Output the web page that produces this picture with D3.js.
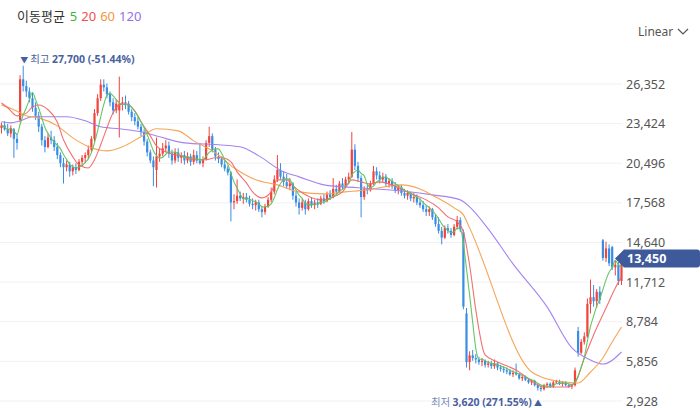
<!DOCTYPE html>
<html>
<head>
<meta charset="utf-8">
<script src="https://cdn.jsdelivr.net/npm/d3@7"></script>
<style>
  body { margin: 0; background: #fff; }
  svg { display: block; font-family: "Noto Sans", "Noto Sans CJK KR", sans-serif; }
</style>
</head>
<body>
<svg id="chart" width="700" height="408"></svg>
<script>
// daily candles [open, high, low, close]
const candles = [
  [23100,23500,22700,23300],[23300,23600,22900,23000],[23000,23400,22500,22700],[22700,23300,22400,23100],
  [23000,23100,20900,22300],[22300,22700,21500,22000],[23700,27000,23500,26700],[26700,27700,25800,26200],
  [26200,26600,25400,25800],[25800,26100,25000,25300],[25300,25700,24300,24600],[24600,25000,23700,24000],
  [24000,24300,22800,23200],[23200,23400,21800,22200],[22200,22500,21300,21700],[21700,22700,21600,22400],
  [22400,22900,21900,22200],[22200,22500,21400,21700],[21700,22000,20800,21100],[21100,21300,20200,20500],
  [20500,20900,19000,20200],[20200,20700,19900,20400],[20400,20600,19500,19900],[19900,20400,19600,20200],
  [20200,20500,19700,20000],[20000,20800,19900,20600],[20600,21100,20300,20900],[20900,21300,20500,21100],
  [21100,21800,20800,21500],[21500,22500,21300,22300],[22300,24500,22100,24200],[24200,25600,24000,25300],
  [25300,26700,25100,26300],[26300,26700,25800,26100],[26100,26400,25300,25600],[25600,25800,24700,25000],
  [25000,25300,24100,24400],[24400,25200,24200,24900],[24400,26900,22400,24900],[24900,25400,24400,25000],
  [25000,25500,24500,24900],[24900,25100,24100,24300],[24300,24500,23600,23900],[23900,24200,23300,23600],
  [23600,23900,23000,23200],[23200,23400,22500,22800],[22800,23000,21800,22100],[22100,22300,21000,21300],
  [21300,21500,20500,20700],[20700,21000,18800,20200],[20000,22400,18700,21000],[21000,21600,20600,21200],
  [21200,22000,21000,21600],[21600,22200,21300,21800],[21800,22100,20900,21200],[21200,21500,20400,20700],
  [20700,21600,20500,21300],[21300,21600,20600,20900],[20900,21300,20500,21100],[21100,21400,20400,20700],
  [20700,21300,20500,21000],[21000,21200,20300,20600],[20600,21500,20400,21100],[21100,21400,20500,20700],
  [20700,22000,20400,20500],[20500,21000,20200,20800],[20800,22200,20700,22000],[22000,23200,21700,22500],
  [22500,22700,21300,21500],[21500,21700,20700,21000],[21000,21300,20500,20800],[20800,21000,20200,20400],
  [20400,20700,19900,20100],[20100,20300,19600,19800],[19800,19900,16200,17600],[17600,18200,17100,17700],
  [17700,19300,17500,18100],[18100,18400,17700,17900],[17900,18300,17500,18000],[18000,18300,17600,17800],
  [17800,18100,17300,17500],[17500,17900,17100,17400],[17400,17800,17000,17600],[17600,17800,16900,17100],
  [17100,17300,16500,16900],[16900,17500,16700,17300],[17300,18000,17200,17800],[17800,18700,17600,18400],
  [18400,19600,18200,19300],[19300,21100,19100,20000],[20000,20500,19300,19500],[19500,19900,18800,19100],
  [19100,19700,18600,18800],[18800,19400,18500,19000],[19000,19100,17800,18100],[18100,18400,17300,17600],
  [17600,17900,16700,17200],[17200,17900,17000,17600],[17600,17800,16700,17100],[17100,17900,17000,17700],
  [17700,18000,17200,17400],[17400,17800,17100,17600],[17600,17900,17200,17500],[17500,18100,17400,17900],
  [17900,18200,17500,17700],[17700,18400,17600,18200],[18200,18500,17800,18000],[18000,19400,17900,18600],
  [18600,18900,18200,18400],[18400,19200,18300,19000],[19000,19400,18600,18800],[18800,19500,18700,19300],
  [19300,19800,19000,19500],[19500,22800,19400,21500],[21500,21900,20000,20300],[20300,20600,19100,19400],
  [19400,19600,16500,18000],[18000,18800,17800,18600],[18600,19000,18200,18500],[18500,19200,18400,19000],
  [19000,20300,18900,19900],[19900,20200,19300,19600],[19600,19900,19000,19300],[19300,19800,19100,19500],
  [19500,19700,18800,19000],[19000,19400,18700,19200],[19200,19400,18600,18800],[18800,19100,18300,18500],
  [18500,18900,18200,18700],[18700,18900,18100,18300],[18300,18600,17900,18100],[18100,18500,17800,18300],
  [18300,18400,17700,17900],[17900,18300,17600,18000],[18000,18200,17400,17600],[17600,17900,17200,17400],
  [17400,17700,16900,17100],[17100,17400,16600,16900],[16900,17300,16600,17100],[17100,17200,16300,16500],
  [16500,16700,15800,16000],[16000,16500,15300,15500],[15500,15800,14500,15000],[15000,15900,14900,15700],
  [15700,16000,15300,15500],[15500,15700,15000,15200],[15200,16000,15100,15800],[15800,16600,15600,16300],
  [16300,16500,15400,15600],[15400,15600,9700,9900],[9400,9800,5400,5800],[5800,6600,5200,6300],
  [6300,6700,5900,6100],[6100,6400,5700,6000],[6000,6200,5600,5800],[5800,6100,5500,5900],
  [5900,6000,5400,5600],[5600,5900,5400,5700],[5700,5900,5300,5500],[5500,6000,5300,5700],
  [5700,5800,5200,5400],[5400,5600,5100,5300],[5300,5500,5000,5200],[5200,5400,4900,5100],
  [5100,5300,4800,4900],[4900,5200,4700,5000],[5000,5700,4800,4900],[4900,5000,4500,4600],
  [4600,4800,4400,4700],[4700,4800,4400,4500],[4500,4600,4200,4300],[4300,4500,4100,4400],
  [4400,4500,4000,4100],[4100,4200,3700,3900],[3900,4000,3620,3800],[3800,4200,3700,4100],
  [4100,4300,3900,4200],[4200,4300,3900,4000],[4000,4400,3900,4300],[4300,4500,4200,4400],
  [4400,4500,4100,4200],[4200,4400,4000,4300],[4300,4400,4000,4100],[4100,4200,3900,4000],
  [4000,4200,3800,4100],[4100,5400,4000,5200],[8100,8400,6200,6500],[6500,7500,6400,7300],
  [7300,8000,7100,7700],[7700,10500,7600,10100],[10100,11900,9400,10600],[10600,11500,9900,10300],
  [10300,11200,9800,11000],[11000,11400,10100,10400],[14800,14900,13300,13500],[13500,14700,13200,14200],
  [14200,14500,12900,13100],[14300,14400,12600,12800],[12800,13300,12200,13000],[13000,13200,11500,11800],
  [11800,13700,11500,13450]
];

// moving averages: [candle index, value]
const ma20 = [
  [0,24950],[2,24600],[5,24000],[8,24200],[10,24650],[12,24800],[15,24450],[18,23550],[20,22230],
  [23,20970],[25,20380],[28,20150],[30,20750],[32,21860],[34,23110],[36,24220],[38,24810],[40,24890],
  [43,24370],[45,23560],[48,22520],[50,21780],[53,21340],[56,21120],[59,20970],[62,20750],[66,20750],
  [69,20900],[71,20900],[74,20600],[76,19860],[79,19050],[81,18380],[84,17940],[87,18380],[89,19270],
  [92,19270],[94,18820],[97,18310],[100,17940],[103,17790],[107,18010],[110,18380],[113,19270],
  [116,19120],[119,18970],[122,19120],[125,18970],[129,18600],[133,18160],[137,17790],[141,17200],
  [144,16530],[147,16160],[149,15420],[151,12980],[153,9660],[156,6330],[160,5810],[166,5220],
  [171,4410],[175,3960],[182,3960],[185,4260],[188,6110],[191,7810],[195,9800],[198,11280],[200,12100]
];
const ma60 = [
  [0,24810],[4,24450],[8,24000],[12,23850],[18,23260],[23,22370],[29,21640],[34,21410],[39,21710],
  [45,22450],[50,23040],[57,22890],[62,22150],[69,21270],[75,20160],[82,19270],[89,18900],[96,18380],
  [104,18230],[111,18380],[118,18530],[129,18900],[135,18600],[140,18010],[146,17200],[149,16680],
  [151,15720],[171,5070],[175,4630],[182,4330],[186,4260],[190,5070],[194,6110],[197,7290],[200,8400]
];
const ma120 = [
  [0,23560],[3,23480],[6,23630],[10,23930],[21,23930],[27,23630],[32,23190],[38,23040],[45,22820],
  [51,22450],[59,22000],[70,21860],[77,21710],[83,21040],[91,19860],[96,19490],[104,18900],[115,18680],
  [129,18450],[139,18160],[148,17790],[151,17270],[157,15650],[165,13060],[176,9880],[184,6850],
  [190,5960],[194,5660],[200,6550]
];

const yTicks = [2928, 5856, 8784, 11712, 14640, 17568, 20496, 23424, 26352];
const maPeriods = [5, 20, 60, 120];
const maColors = ["#5cc45e", "#f26868", "#f5a04e", "#a07cf0"];
const labelColors = ["#3db346", "#f04f4f", "#f5953f", "#9470ec"];

const upColor = "#f0443c";
const downColor = "#3a8de4";
const tagColor = "#3e5a9b";

const svg = d3.select("#chart");
const plot = { left: 0, right: 622, top: 60, bottom: 404 };

const x = d3.scaleLinear()
  .domain([0, candles.length - 1])
  .range([1.5, 621.5]);

const y = d3.scaleLinear()
  .domain([2928, 26352])
  .range([401, 84]);

// grid
svg.append("g")
  .selectAll("line")
  .data(yTicks)
  .enter()
  .append("line")
  .attr("x1", plot.left)
  .attr("x2", plot.right)
  .attr("y1", d => y(d))
  .attr("y2", d => y(d))
  .attr("stroke", "#f1f1f1")
  .attr("stroke-width", 1);

// y axis on the right
const yAxis = svg.append("g")
  .attr("transform", "translate(" + (plot.right + 4) + ",0)")
  .call(d3.axisRight(y).tickValues(yTicks).tickSize(0).tickPadding(0).tickFormat(d3.format(",")));
yAxis.select(".domain").remove();
yAxis.selectAll("text")
  .attr("fill", "#555")
  .style("font-size", "12.5px")
  .style("font-family", "'Noto Sans', sans-serif");

// candles
const bar = 2.2;
const candle = svg.append("g")
  .selectAll("g")
  .data(candles)
  .enter()
  .append("g")
  .attr("fill", d => d[3] >= d[0] ? upColor : downColor)
  .attr("stroke", d => d[3] >= d[0] ? upColor : downColor);

candle.append("line")
  .attr("x1", (d, i) => x(i))
  .attr("x2", (d, i) => x(i))
  .attr("y1", d => y(d[1]))
  .attr("y2", d => y(d[2]))
  .attr("stroke-width", 1);

candle.append("rect")
  .attr("stroke", "none")
  .attr("x", (d, i) => x(i) - bar / 2)
  .attr("width", bar)
  .attr("y", d => y(Math.max(d[0], d[3])))
  .attr("height", d => Math.max(1, Math.abs(y(d[0]) - y(d[3]))));

// MA5 from the closes, others
const closes = candles.map(d => d[3]);
const ma5 = closes.map((c, i) => {
  const w = closes.slice(Math.max(0, i - 4), i + 1);
  return [i, d3.mean(w)];
});

const line = d3.line()
  .x(d => x(d[0]))
  .y(d => y(d[1]))
  .curve(d3.curveMonotoneX);

const maSeries = [ma120, ma60, ma20, ma5];
const maSeriesColors = [maColors[3], maColors[2], maColors[1], maColors[0]];
svg.append("g")
  .selectAll("path")
  .data(maSeries)
  .enter()
  .append("path")
  .attr("d", line)
  .attr("fill", "none")
  .attr("stroke", (d, i) => maSeriesColors[i])
  .attr("stroke-width", 1.1)
  .attr("opacity", 0.95);

// header legend
const header = svg.append("text")
  .attr("x", 17)
  .attr("y", 21)
  .style("font-size", "13px");
header.append("tspan")
  .attr("fill", "#333")
  .style("font-family", "'Noto Sans CJK KR', sans-serif")
  .text("이동평균");
maPeriods.forEach((p, i) => {
  header.append("tspan")
    .attr("dx", i == 0 ? 5 : 4)
    .attr("fill", labelColors[i])
    .text(p);
});

const scaleLabel = svg.append("g").attr("transform", "translate(638,36)");
scaleLabel.append("text")
  .attr("fill", "#555")
  .style("font-size", "12px")
  .text("Linear");
scaleLabel.append("path")
  .attr("d", "M40,-7 L45,-2 L50,-7")
  .attr("fill", "none")
  .attr("stroke", "#555")
  .attr("stroke-width", 1.2);

// high / low markers
const last = closes[closes.length - 1];
const hiIdx = d3.maxIndex(candles, d => d[1]);
const loIdx = d3.minIndex(candles, d => d[2]);
const hi = candles[hiIdx][1];
const lo = candles[loIdx][2];
const pct = v => ((last - v) / v * 100).toFixed(2) + "%";
const fmt = d3.format(",");

const hiText = svg.append("text")
  .attr("x", x(hiIdx) - 3)
  .attr("y", y(hi) - 2.5)
  .attr("fill", "#4a5f9f")
  .style("font-size", "10.5px");
hiText.append("tspan").text("▼").style("font-size", "8px");
hiText.append("tspan").attr("dx", 2).style("font-family", "'Noto Sans CJK KR', sans-serif").text("최고 ");
hiText.append("tspan").attr("font-weight", "bold").text(fmt(hi) + " (" + pct(hi) + ")");

const loText = svg.append("text")
  .attr("x", x(loIdx) + 1)
  .attr("y", 405.5)
  .attr("text-anchor", "end")
  .attr("fill", "#4a5f9f")
  .style("font-size", "10.5px");
loText.append("tspan").attr("fill", "#7b8bb8").style("font-family", "'Noto Sans CJK KR', sans-serif").text("최저 ");
loText.append("tspan").attr("font-weight", "bold").text(fmt(lo) + " (" + pct(lo) + ")");
loText.append("tspan").attr("dx", 2).text("▲").style("font-size", "8px");

// current price tag
const ty = y(last);
svg.append("path")
  .attr("d", "M615," + ty + " L624," + (ty - 9) + " H697 Q700," + (ty - 9) + " 700," + (ty - 6) +
    " V" + (ty + 6) + " Q700," + (ty + 9) + " 697," + (ty + 9) + " H624 Z")
  .attr("fill", tagColor);
svg.append("text")
  .attr("x", 627)
  .attr("y", ty + 4.5)
  .attr("fill", "#fff")
  .attr("font-weight", "bold")
  .style("font-size", "12.5px")
  .text(fmt(last));
</script>
</body>
</html>
